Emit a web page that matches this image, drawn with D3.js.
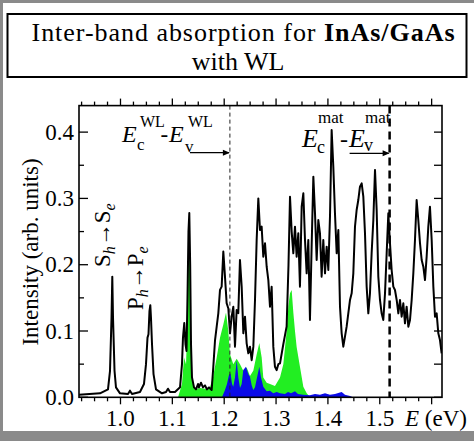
<!DOCTYPE html>
<html><head><meta charset="utf-8">
<script src="https://cdn.jsdelivr.net/npm/d3@7"></script>
<style>
body{margin:0;background:#fff}
svg{display:block}
svg text, svg tspan{font-family:"Liberation Serif","Tinos","DejaVu Serif" !important}
</style>
</head><body>
<svg id="c" width="474" height="441" font-family="Liberation Serif"></svg>
<script>
// ---------- data ----------
const titleNormal = "Inter-band absorption for ";
const titleBold = "InAs/GaAs";
const titleLine2 = "with WL";
const yLabel = "Intensity (arb. units)";
const xTickValues = [1.0, 1.1, 1.2, 1.3, 1.4, 1.5];
const xTickLabels = ["1.0", "1.1", "1.2", "1.3", "1.4", "1.5"];
const yTickValues = [0.0, 0.1, 0.2, 0.3, 0.4];
const yTickLabels = ["0.0", "0.1", "0.2", "0.3", "0.4"];
const gapWL = 1.211;
const gapMat = 1.519;

const blackE = [0.920,0.9605,0.9759,0.9798,0.9827,0.9842,0.9856,0.9885,0.9913,0.9991,1.0145,1.0183,1.0222,1.0376,1.0453,1.0492,1.0521,1.0540,1.0559,1.0575,1.0588,1.0608,1.0637,1.0685,1.0800,1.0878,1.0916,1.0955,1.1051,1.1148,1.1186,1.1205,1.1230,1.1254,1.1273,1.1292,1.1311,1.1327,1.1344,1.1360,1.1379,1.1418,1.1456,1.1495,1.1514,1.1552,1.1591,1.1630,1.1668,1.1707,
1.1758,1.1790,1.1823,1.1855,1.1887,1.1919,1.1951,1.1983,1.2015,1.2047,1.2080,1.2112,1.2144,1.2176,1.2208,1.2240,1.2272,1.2304,1.2337,1.2369,1.2401,1.2433,1.2465,1.2497,1.2530,1.2562,1.2594,1.2626,1.2658,1.2690,1.2722,1.2754,1.2787,1.2819,1.2851,1.2883,1.2915,1.2947,1.2979,1.3011,1.3044,
1.3076,1.3140,1.3204,1.3240,1.3269,1.3301,1.3333,1.3365,1.3397,1.3429,1.3461,1.3494,1.3526,1.3558,1.3590,1.3622,1.3654,1.3686,1.3719,1.3751,1.3783,1.3815,1.3847,1.3879,1.3911,1.3944,1.3976,1.4008,1.4040,1.4072,1.4104,1.4136,1.4169,1.4201,1.4233,1.4265,1.4297,1.4329,1.4361,1.4426,1.4458,1.4490,1.4522,1.4554,1.4586,1.4618,1.4651,1.4683,1.4715,1.4747,1.4779,1.4811,1.4843,1.4876,1.4908,1.4940,1.4972,1.5004,1.5036,1.5068,1.5101,1.5133,1.5165,1.5197,1.5229,1.5261,1.5293,1.5326,1.5358,1.5390,1.5422,1.5454,1.5486,1.5518,1.5551,1.5583,1.5615,1.5647,1.5679,1.5711,1.5743,1.5776,1.5808,1.5840,1.5872,1.5904,1.5936,1.5968,1.6001,1.6033,1.6065,1.6097,1.6129,1.6161,1.6193];
const blackI = [0.004,0.006,0.012,0.04,0.12,0.182,0.12,0.04,0.015,0.006,0.005,0.01,0.005,0.008,0.02,0.05,0.09,0.095,0.13,0.139,0.12,0.08,0.035,0.012,0.006,0.008,0.013,0.008,0.008,0.015,0.05,0.09,0.112,0.08,0.07,0.15,0.25,0.278,0.2,0.08,0.03,0.015,0.012,0.02,0.015,0.022,0.015,0.018,0.012,0.015,
0.011,0.046,0.086,0.1065,0.127,0.162,0.167,0.22,0.182,0.142,0.134,0.0965,0.1216,0.1367,0.0764,0.1317,0.127,0.2071,0.167,0.0965,0.1216,0.0814,0.0663,0.0764,0.056,0.0764,0.1468,0.2373,0.300,0.2523,0.2574,0.2121,0.2322,0.197,0.1769,0.1367,0.1669,0.0764,0.046,0.041,0.05,
0.0512,0.08,0.107,0.2,0.3026,0.25,0.2172,0.2574,0.2121,0.2473,0.1669,0.2875,0.3077,0.2373,0.187,0.2373,0.1166,0.2272,0.3328,0.2775,0.2071,0.2674,0.2473,0.182,0.2373,0.187,0.2272,0.192,0.2725,0.4032,0.3479,0.2775,0.2172,0.2523,0.1367,0.0965,0.0764,0.0915,0.1065,0.1468,0.1568,0.187,0.2574,0.2825,0.2976,0.3177,0.3227,0.3026,0.2473,0.1669,0.1266,0.1568,0.2172,0.2674,0.343,0.2825,0.182,0.1468,0.1266,0.1166,0.1568,0.2172,0.2775,0.2322,0.192,0.1669,0.1618,0.1468,0.1266,0.1468,0.1216,0.1417,0.1116,0.1367,0.1065,0.1166,0.1468,0.187,0.2373,0.2976,0.2674,0.2322,0.2071,0.197,0.1769,0.2121,0.2574,0.2875,0.2373,0.1669,0.1216,0.1266,0.0965,0.0864,0.0663];

const greenE = [1.111,1.1186,1.1225,1.1264,1.1292,1.1311,1.1327,1.1344,1.1360,1.1379,1.1437,1.1534,1.1630,1.1726,1.1784,1.1855,1.1919,1.1983,1.2035,1.2079,1.2112,1.2175,1.2241,1.2305,1.2368,1.2434,1.2497,1.2561,1.2627,1.2677,1.2723,1.2754,1.2819,1.2883,1.2979,1.3076,1.3140,1.3205,1.3237,1.3269,1.3301,1.3334,1.3365,1.3397,1.3461,1.3526,1.3591,1.3654];
const greenI = [0,0.02,0.06,0.05,0.12,0.22,0.25,0.17,0.07,0.025,0.012,0.014,0.013,0.015,0.03,0.06,0.09,0.11,0.128,0.1,0.065,0.05,0.058,0.05,0.04,0.045,0.032,0.04,0.065,0.082,0.06,0.03,0.022,0.02,0.017,0.03,0.05,0.1,0.137,0.157,0.162,0.127,0.1,0.076,0.046,0.016,0.006,0.0];

const blueE = [1.1957,1.2015,1.2054,1.2093,1.2122,1.2151,1.2175,1.2208,1.2241,1.2272,1.2305,1.2337,1.2368,1.2420,1.2465,1.2497,1.2530,1.2561,1.2594,1.2633,1.2677,1.2710,1.2754,1.2819,1.2883,1.2947,1.3012,1.3076,1.3172,1.3231,1.3289,1.3365,1.3423,1.3519,1.3654,1.3751,1.3847,1.3944,1.4040,1.4136,1.4265,1.4329,1.4426,1.4483];
const blueI = [0,0.011,0.02,0.034,0.036,0.02,0.016,0.03,0.056,0.03,0.014,0.02,0.041,0.046,0.035,0.031,0.018,0.011,0.015,0.03,0.046,0.03,0.016,0.009,0.01,0.006,0.008,0.006,0.005,0.008,0.006,0.009,0.005,0.004,0.003,0.005,0.004,0.006,0.004,0.005,0.008,0.004,0.002,0];

// ---------- drawing ----------
const FONT = "Liberation Serif";
const svg = d3.select("#c");
const T = (sel) => sel.append("text").attr("font-family", FONT).style("font-family", '"Liberation Serif"');
const x = d3.scaleLinear().domain([0.92, 1.62]).range([79, 442]);
const y = d3.scaleLinear().domain([0, 0.44]).range([397.3, 105.6]);
const [X0, X1] = x.range();
const [Y0, Y1] = y.range();

// gray outer border
svg.append("rect").attr("x",0).attr("y",0).attr("width",474).attr("height",3).attr("fill","#8a8a8a");
svg.append("rect").attr("x",0).attr("y",0).attr("width",3).attr("height",441).attr("fill","#8a8a8a");
svg.append("rect").attr("x",0).attr("y",431).attr("width",474).attr("height",10).attr("fill","#8a8a8a");

// title box
svg.append("rect").attr("x",7.5).attr("y",14).attr("width",459).attr("height",63)
  .attr("fill","none").attr("stroke","#000").attr("stroke-width",2);
const t1 = T(svg).attr("x",243).attr("y",41).attr("text-anchor","middle")
  .style("font-size","26px").attr("textLength",423).attr("lengthAdjust","spacing");
t1.append("tspan").text(titleNormal);
t1.append("tspan").style("font-weight","bold").text(titleBold);
T(svg).attr("x",238).attr("y",70).attr("text-anchor","middle")
  .style("font-size","26px").text(titleLine2);

// clip
svg.append("clipPath").attr("id","clip").append("rect")
  .attr("x",X0).attr("y",Y1).attr("width",X1-X0).attr("height",Y0-Y1);
const g = svg.append("g").attr("clip-path","url(#clip)");

const zip = (a,b) => a.map((v,i)=>[v,b[i]]);
const area = d3.area().x(d=>x(d[0])).y0(y(0)).y1(d=>y(d[1]));
const line = d3.line().x(d=>x(d[0])).y(d=>y(d[1]));

g.append("path").attr("d",area(zip(greenE,greenI))).attr("fill","#22ee22");
g.append("path").attr("d",area(zip(blueE,blueI))).attr("fill","#0a0ae8");
g.append("path").attr("d",line(zip(blackE,blackI))).attr("fill","none")
  .attr("stroke","#000").attr("stroke-width",2).attr("stroke-linejoin","round");

// dashed gap lines
svg.append("line").attr("x1",x(gapWL)).attr("x2",x(gapWL)).attr("y1",Y1).attr("y2",Y0)
  .attr("stroke","#222").attr("stroke-width",1).attr("stroke-dasharray","4,3");
svg.append("line").attr("x1",x(gapMat)).attr("x2",x(gapMat)).attr("y1",Y1).attr("y2",Y0)
  .attr("stroke","#000").attr("stroke-width",2.5).attr("stroke-dasharray","8,5");

// frame
svg.append("rect").attr("x",X0).attr("y",Y1).attr("width",X1-X0).attr("height",Y0-Y1)
  .attr("fill","none").attr("stroke","#000").attr("stroke-width",1.6);

// x ticks (minor every 0.025) bottom & top, outward
const xt = d3.range(37, 65).map(i => ({v: i*0.025, major: i%4===0}));
xt.forEach(t => {
  const px = x(t.v), L = t.major ? 7 : 4;
  svg.append("line").attr("x1",px).attr("x2",px).attr("y1",Y0).attr("y2",Y0+L).attr("stroke","#000").attr("stroke-width",1.3);
  svg.append("line").attr("x1",px).attr("x2",px).attr("y1",Y1).attr("y2",Y1-L).attr("stroke","#000").attr("stroke-width",1.3);
});
// y ticks inward
const yt = d3.range(0, 9).map(i => ({v: i*0.05, major: i%2===0}));
yt.forEach(t => {
  const py = y(t.v);
  svg.append("line").attr("x1",X0).attr("x2",X0+(t.major?9:5)).attr("y1",py).attr("y2",py).attr("stroke","#000").attr("stroke-width",1.3);
  svg.append("line").attr("x1",X1).attr("x2",X1-8).attr("y1",py).attr("y2",py).attr("stroke","#000").attr("stroke-width",1.3);
});

// tick labels
xTickValues.forEach((v,i) => {
  T(svg).attr("x",x(v)).attr("y",426).attr("text-anchor","middle")
    .style("font-size","23px").text(xTickLabels[i]);
});
yTickValues.forEach((v,i) => {
  T(svg).attr("x",74).attr("y",y(v)+7.5).attr("text-anchor","end")
    .style("font-size","23px").text(yTickLabels[i]);
});

// axis labels
const xl = T(svg).attr("x",405).attr("y",426).style("font-size","23px");
xl.append("tspan").style("font-style","italic").text("E");
xl.append("tspan").text(" (eV)");
T(svg).attr("transform","translate(38,252) rotate(-90)").attr("text-anchor","middle")
  .style("font-size","23px").text(yLabel);

// annotations: one text element each, tspans at explicit positions
function formula(parts) {
  const t = T(svg);
  parts.forEach(p => {
    t.append("tspan").attr("x",p[1]).attr("y",p[2]).style("font-size",p[3]+"px")
      .style("font-style", p[4] ? "italic" : "normal").text(p[0]);
  });
}
formula([["E",122,142,24,true],["c",137,150,17,false],["WL",140,127,16,false],
         ["-",160.5,142,23,false],["E",169,142,24,true],["v",185,152,17,false],["WL",188,127,16,false]]);
formula([["E",302,147,26,true],["c",317,153,18,false],["mat",318,123,17,false],
         ["-",340,147,24,false],["E",349,147,26,true],["v",364,151,18,false],["mat",365,123,17,false]]);

function arrow(xEnd, py) {
  const xs = xEnd - 40;
  svg.append("line").attr("x1",xs).attr("x2",xEnd-1).attr("y1",py).attr("y2",py).attr("stroke","#000").attr("stroke-width",1.3);
  svg.append("path").attr("d",`M${xEnd-7},${py-3}L${xEnd},${py}L${xEnd-7},${py+3}Z`).attr("fill","#000");
}
arrow(x(gapWL), 152.7);
arrow(x(gapMat), 153.3);

// rotated transition labels
function rotLabel(px, py, a, b) {
  const t = T(svg).attr("transform",`translate(${px},${py}) rotate(-90)`)
    .style("font-size","23px");
  t.append("tspan").text(a);
  t.append("tspan").style("font-size","16px").style("font-style","italic").attr("dy",5).text("h");
  t.append("tspan").attr("dy",-5).text("\u2192" + a);
  t.append("tspan").style("font-size","16px").style("font-style","italic").attr("dy",5).text(b);
}
rotLabel(110, 267, "S", "e");
rotLabel(143, 310, "P", "e");
</script>
</body></html>
